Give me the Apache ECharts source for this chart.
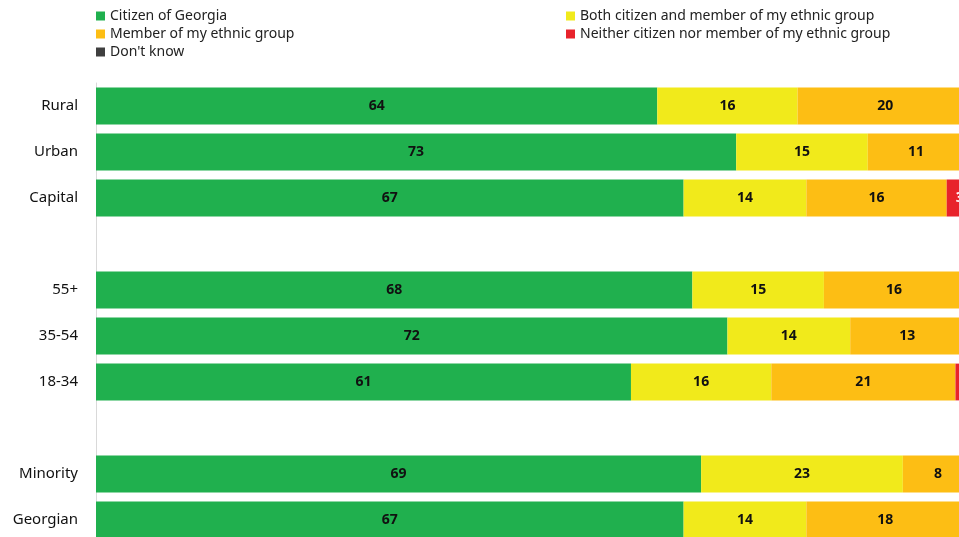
<!DOCTYPE html>
<html>
<head>
<meta charset="utf-8">
<script src="https://cdn.jsdelivr.net/npm/echarts@6/dist/echarts.min.js"></script>
<style>
html,body{margin:0;padding:0;background:#fff;overflow:hidden;}
#main{width:1000px;height:570px;}
</style>
</head>
<body>
<div id="main"></div>
<script>
//categories, blank rows separate the groups
var categories = ['Rural','Urban','Capital','','55+','35-54','18-34','','Minority','Georgian'];
var citizen   = [64, 73, 67, null, 68, 72, 61, null, 69, 67];
var both      = [16, 15, 14, null, 15, 14, 16, null, 23, 14];
var ethnic    = [20, 11, 16, null, 16, 13, 21, null, 8, 18];
var neither   = [0, 1, 3, null, 1, 1, 2, null, 0, 1];
var dontKnow  = [0, 0, 0, null, 0, 0, 0, null, 0, 0];

var seriesNames = ['Citizen of Georgia','Both citizen and member of my ethnic group','Member of my ethnic group','Neither citizen nor member of my ethnic group',"Don't know"];
var seriesData = [citizen, both, ethnic, neither, dontKnow];
var colors = ['#20b04e','#f1ea1b','#fdbe14','#e8232b','#3f3f3f'];
var labelColors = ['#111','#111','#111','#fff','#fff'];

var myChart = echarts.init(document.getElementById('main'));

var series = [];
for(let i = 0; i < seriesNames.length; i++){
	series.push({
		name: seriesNames[i],
		type: 'bar',
		stack: 'total',
		barCategoryGap: '20%',
		itemStyle: {color: colors[i]},
		label: {
			show: true,
			position: 'inside',
			color: labelColors[i],
			fontFamily: 'Noto Sans',
			fontWeight: 'bold',
			fontSize: 14,
			formatter: function(p){
				return p.value ? p.value : '';
			}
		},
		data: seriesData[i]
	});
}

var legendText = {
	color: '#222',
	fontFamily: 'Noto Sans',
	fontSize: 14,
	lineHeight: 18
};

var option = {
	backgroundColor: '#fff',
	animation: false,
	legend: [{
		orient: 'vertical',
		left: 91,
		top: 2,
		icon: 'rect',
		itemWidth: 9,
		itemHeight: 9,
		itemGap: 0,
		textStyle: legendText,
		data: ['Citizen of Georgia','Member of my ethnic group',"Don't know"]
	},{
		orient: 'vertical',
		left: 561,
		top: 2,
		icon: 'rect',
		itemWidth: 9,
		itemHeight: 9,
		itemGap: 0,
		textStyle: legendText,
		data: ['Both citizen and member of my ethnic group','Neither citizen nor member of my ethnic group']
	}],
	grid: {
		left: 96,
		top: 83,
		width: 877,
		height: 460
	},
	xAxis: {
		type: 'value',
		min: 0,
		max: 100,
		show: false
	},
	yAxis: {
		type: 'category',
		inverse: true,
		data: categories,
		axisLine: {show: true, lineStyle: {color: '#d9d9d9', width: 1}},
		axisTick: {show: false},
		axisLabel: {
			color: '#111',
			fontFamily: 'Noto Sans',
			fontSize: 15,
			margin: 18
		}
	},
	series: series
};
myChart.setOption(option);
</script>
</body>
</html>
